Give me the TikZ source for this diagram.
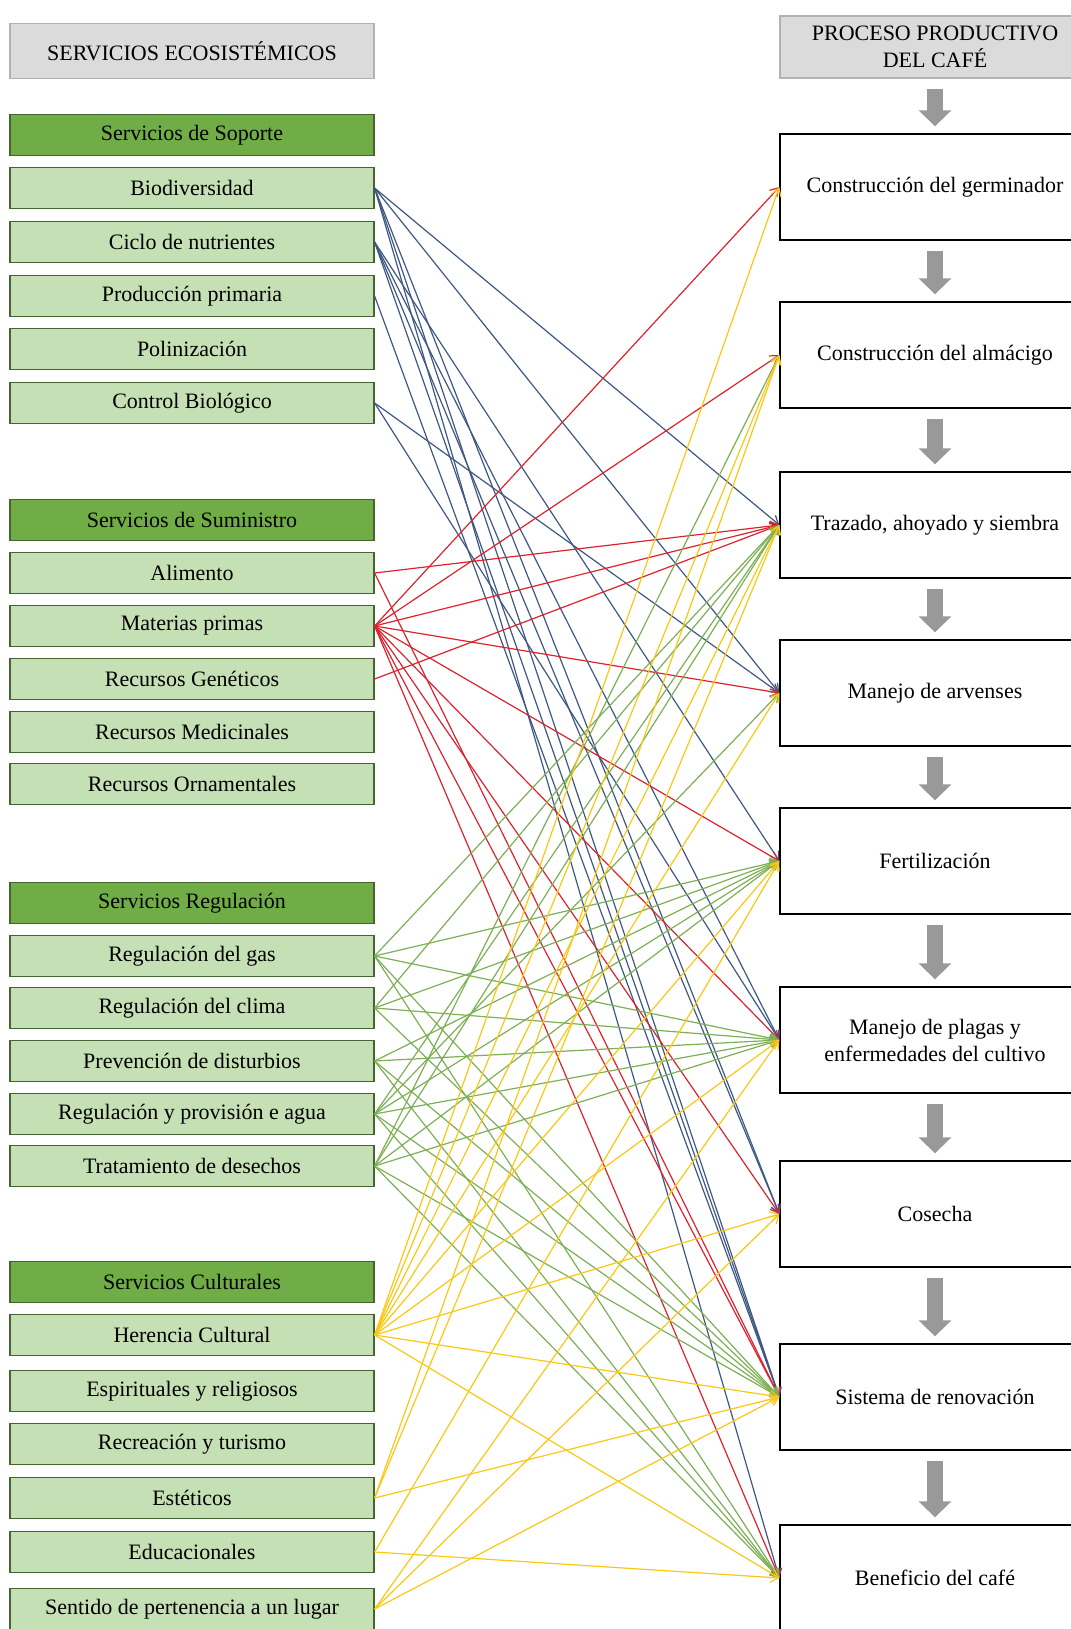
\documentclass[tikz,border=0pt]{standalone}
\usepackage{fontspec}
\setmainfont{Liberation Serif}
\usetikzlibrary{arrows.meta}

\definecolor{verdeosc}{RGB}{112,173,71}
\definecolor{verdecla}{RGB}{197,224,180}
\definecolor{verdeborde}{RGB}{70,100,50}
\definecolor{azul}{RGB}{62,88,130}
\definecolor{rojo}{RGB}{220,35,45}
\definecolor{verdelin}{RGB}{125,175,85}
\definecolor{amarillo}{RGB}{250,200,20}

\begin{document}
\begin{tikzpicture}[x=0.5pt,y=-0.5pt,
    every node/.style={font=\fontsize{11}{13.5}\selectfont},
    titulo/.style={draw=gray!60, fill=gray!28, line width=0.6pt, minimum width=182pt, minimum height=27.5pt, inner sep=0pt, align=center},
    grupo/.style={draw=verdeborde, fill=verdeosc, line width=0.6pt, minimum width=182pt, minimum height=20.5pt, inner sep=0pt},
    serv/.style={draw=verdeborde, fill=verdecla, line width=0.6pt, minimum width=182pt, minimum height=20.5pt, inner sep=0pt},
    etapa/.style={draw=black, line width=0.7pt, minimum width=155pt, minimum height=53pt, inner sep=0pt, align=center},
    paso/.style={draw=gray!80, line width=8pt, -{Triangle[width=16pt,length=8pt]}, shorten <=5pt, shorten >=3.5pt},
    link/.style={line width=0.6pt, -{Straight Barb[length=4pt,width=5pt]}}]
  \useasboundingbox (0,0) rectangle (1071,1629);

  % titulos
  \node[titulo] (se) at (192,51) {SERVICIOS ECOSISTÉMICOS};
  \node[titulo, minimum width=155pt, minimum height=31pt] (pp) at (935,47) {PROCESO PRODUCTIVO\\DEL CAFÉ};

  % servicios
  \node[grupo] (sop) at (192,135) {Servicios de Soporte};
  \node[serv] (bio) at (192,188) {Biodiversidad};
  \node[serv] (cic) at (192,242) {Ciclo de nutrientes};
  \node[serv] (pro) at (192,296) {Producción primaria};
  \node[serv] (pol) at (192,349) {Polinización};
  \node[serv] (con) at (192,403) {Control Biológico};

  \node[grupo] (sum) at (192,520) {Servicios de Suministro};
  \node[serv] (ali) at (192,573) {Alimento};
  \node[serv] (mat) at (192,626) {Materias primas};
  \node[serv] (gen) at (192,679) {Recursos Genéticos};
  \node[serv] (med) at (192,732) {Recursos Medicinales};
  \node[serv] (orn) at (192,784) {Recursos Ornamentales};

  \node[grupo] (reg) at (192,903) {Servicios Regulación};
  \node[serv] (gas) at (192,956) {Regulación del gas};
  \node[serv] (cli) at (192,1008) {Regulación del clima};
  \node[serv] (pre) at (192,1061) {Prevención de disturbios};
  \node[serv] (agu) at (192,1114) {Regulación y provisión e agua};
  \node[serv] (tra) at (192,1166) {Tratamiento de desechos};

  \node[grupo] (cul) at (192,1282) {Servicios Culturales};
  \node[serv] (her) at (192,1335) {Herencia Cultural};
  \node[serv] (esp) at (192,1391) {Espirituales y religiosos};
  \node[serv] (rec) at (192,1444) {Recreación y turismo};
  \node[serv] (est) at (192,1498) {Estéticos};
  \node[serv] (edu) at (192,1552) {Educacionales};
  \node[serv] (sen) at (192,1609) {Sentido de pertenencia a un lugar};

  % proceso
  \node[etapa] (ger) at (935,187) {Construcción del germinador};
  \node[etapa] (alm) at (935,355) {Construcción del almácigo};
  \node[etapa] (traz) at (935,525) {Trazado, ahoyado y siembra};
  \node[etapa] (arv) at (935,693) {Manejo de arvenses};
  \node[etapa] (fer) at (935,861) {Fertilización};
  \node[etapa] (pla) at (935,1040) {Manejo de plagas y\\enfermedades del cultivo};
  \node[etapa] (cos) at (935,1214) {Cosecha};
  \node[etapa] (ren) at (935,1397) {Sistema de renovación};
  \node[etapa] (ben) at (935,1578) {Beneficio del café};

  \draw[paso] (pp) -- (ger);
  \foreach \a/\b in {ger/alm,alm/traz,traz/arv,arv/fer,fer/pla,pla/cos,cos/ren,ren/ben}
    \draw[paso] (\a) -- (\b);

  % enlaces
  \foreach \s/\t in {bio/traz,bio/arv,bio/cos,bio/ren,bio/ben,cic/fer,cic/pla,cic/cos,cic/ren,pro/ren,con/arv,con/pla}
    \draw[link,azul] (\s.east) -- (\t.west);
  \foreach \s/\t in {ali/traz,ali/ren,mat/ger,mat/alm,mat/traz,mat/arv,mat/fer,mat/pla,mat/cos,mat/ren,mat/ben,gen/traz}
    \draw[link,rojo] (\s.east) -- (\t.west);
  \foreach \s/\t in {gas/traz,gas/fer,gas/pla,gas/ren,gas/ben,cli/traz,cli/fer,cli/pla,cli/ren,pre/fer,pre/pla,pre/ren,pre/ben,agu/traz,agu/arv,agu/fer,agu/pla,agu/ren,agu/ben,tra/alm,tra/traz,tra/fer,tra/pla,tra/ren,tra/ben}
    \draw[link,verdelin] (\s.east) -- (\t.west);
  \foreach \s/\t in {her/ger,her/alm,her/traz,her/arv,her/fer,her/pla,her/cos,her/ren,her/ben,est/alm,est/traz,est/ren,edu/fer,edu/ben,sen/pla,sen/cos,sen/ren}
    \draw[link,amarillo] (\s.east) -- (\t.west);
\end{tikzpicture}
\end{document}
